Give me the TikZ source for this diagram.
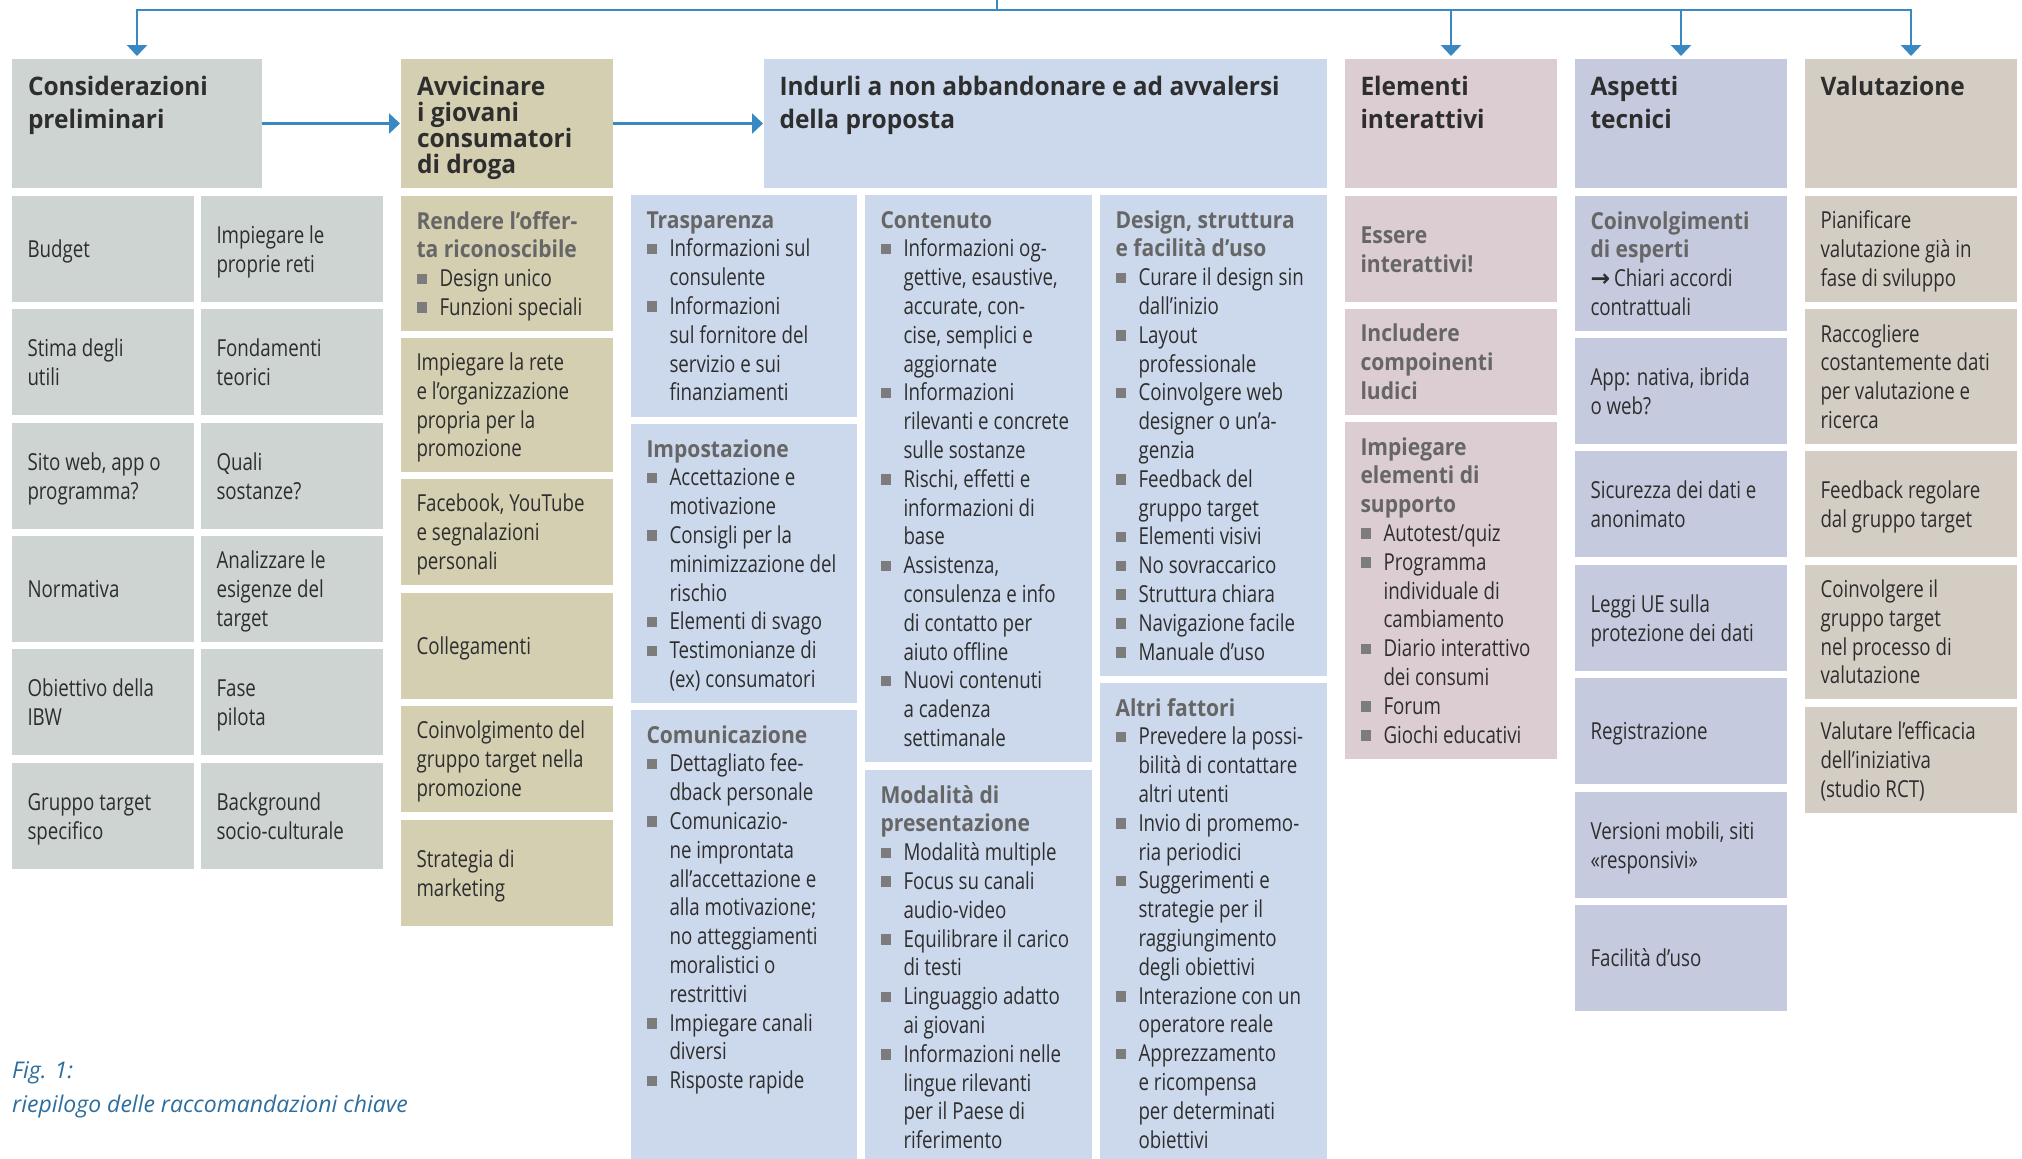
\documentclass[tikz,border=0pt]{standalone}
\usepackage{fontspec}
\setmainfont{Open Sans}[FakeStretch=0.8]
\newfontfamily\titlefont{Open Sans}[FakeStretch=0.96]
\newfontfamily\subfont{Open Sans}[FakeStretch=0.9]
\newfontfamily\capfont{Open Sans}[FakeStretch=1.0]
\newfontfamily\djv{DejaVu Sans}
\usetikzlibrary{arrows.meta}
\definecolor{gr}{HTML}{CDD4D1}
\definecolor{kh}{HTML}{D4CFB1}
\definecolor{bl}{HTML}{CCD9EC}
\definecolor{pk}{HTML}{DCCDD3}
\definecolor{lv}{HTML}{C5CADE}
\definecolor{tp}{HTML}{D4CDC3}
\definecolor{arrc}{HTML}{3A88C2}
\definecolor{txt}{HTML}{2E2E2E}
\definecolor{subc}{HTML}{666666}
\definecolor{bulc}{HTML}{7C7C7C}
\definecolor{capc}{HTML}{2E6E9E}
\newcommand\bodyf{\fontsize{23.4}{28.8}\selectfont}
\newcommand\ttlf{\titlefont\bfseries\fontsize{25.5}{33}\selectfont}
\newcommand\subh{\subfont\bfseries\color{subc}}
\newcommand\bul{\makebox[23pt][l]{\textcolor{bulc}{\rule[2.5pt]{10.5pt}{10.5pt}}}}
\newcommand\hin{\hspace*{23pt}}
\newcommand\tl[1]{\begin{tabular}[t]{@{}l@{}}#1\end{tabular}}
\tikzset{
  bx/.style={rectangle, inner sep=0pt, outer sep=0pt, anchor=north west, draw=none},
  tc/.style={anchor=west, inner sep=0pt, outer sep=0pt, text=txt, font=\bodyf},
  tt/.style={anchor=base west, inner sep=0pt, outer sep=0pt, text=txt, font=\bodyf},
  ht/.style={anchor=base west, inner sep=0pt, outer sep=0pt, text=txt, font=\ttlf},
  conn/.style={draw=arrc, line width=2.8pt},
  tip/.style={-{Triangle[width=20pt,length=11pt]}}
}
% centered box
\newcommand\cb[7]{%
  \node[bx, fill=#6, minimum width=#4pt, minimum height=#5pt] (#1) at (#2,#3) {};
  \node[tc] (#1t) at ([xshift=15.5pt,yshift=-3pt]#1.west) {\tl{#7}};}
% top aligned box
\newcommand\tb[7]{%
  \node[bx, fill=#6, minimum width=#4pt, minimum height=#5pt] (#1) at (#2,#3) {};
  \node[tt] (#1t) at ([xshift=15.5pt,yshift=-33pt]#1.north west) {\tl{#7}};}
\begin{document}
\begin{tikzpicture}[x=1pt,y=-1pt]
\fill[white] (0,0) rectangle (2022,1159);
\useasboundingbox (0,0) rectangle (2022,1159);

% header boxes
\node[bx, fill=gr, minimum width=250pt, minimum height=129pt] (cons) at (12,59) {};
\node[ht] (consT) at ([xshift=16pt,yshift=-36pt]cons.north west) {\tl{Considerazioni\\preliminari}};
\node[bx, fill=kh, minimum width=212pt, minimum height=129pt] (avv) at (401,59) {};
\node[ht, font=\titlefont\bfseries\fontsize{25.5}{23}\selectfont] (avvT) at ([xshift=16pt,yshift=-36pt]avv.north west) {\tl{Avvicinare\\i giovani\\consumatori\\di droga}};
\node[bx, fill=bl, minimum width=563pt, minimum height=129pt] (ind) at (764,59) {};
\node[ht] (indT) at ([xshift=15.5pt,yshift=-36pt]ind.north west) {\tl{Indurli a non abbandonare e ad avvalersi\\della proposta}};
\node[bx, fill=pk, minimum width=212pt, minimum height=129pt] (ele) at (1345,59) {};
\node[ht] (eleT) at ([xshift=15.5pt,yshift=-36pt]ele.north west) {\tl{Elementi\\interattivi}};
\node[bx, fill=lv, minimum width=212pt, minimum height=129pt] (asp) at (1575,59) {};
\node[ht] (aspT) at ([xshift=15.5pt,yshift=-36pt]asp.north west) {\tl{Aspetti\\tecnici}};
\node[bx, fill=tp, minimum width=212pt, minimum height=129pt] (val) at (1805,59) {};
\node[ht] (valT) at ([xshift=15.5pt,yshift=-36pt]val.north west) {\tl{Valutazione}};

% connectors
\coordinate (src) at (997,0);
\coordinate (jn) at (997,10);
\draw[conn] (src) -- (jn);
\draw[conn, tip, shorten >=3pt] (jn) -| (cons.north);
\draw[conn, tip, shorten >=3pt] (jn) -| (ele.north);
\draw[conn, tip, shorten >=3pt] (jn) -| (asp.north);
\draw[conn, tip, shorten >=3pt] (jn) -| (val.north);
\draw[conn, tip, shorten >=1pt] (cons.east) -- (avv.west);
\draw[conn, tip, shorten >=1pt] (avv.east) -- (ind.west);

% Considerazioni preliminari
\cb{g1}{12}{196}{182}{106}{gr}{Budget}
\cb{g2}{201}{196}{182}{106}{gr}{Impiegare le\\proprie reti}
\cb{g3}{12}{309}{182}{106}{gr}{Stima degli\\utili}
\cb{g4}{201}{309}{182}{106}{gr}{Fondamenti\\teorici}
\cb{g5}{12}{423}{182}{106}{gr}{Sito web, app o\\programma?}
\cb{g6}{201}{423}{182}{106}{gr}{Quali\\sostanze?}
\cb{g7}{12}{536}{182}{106}{gr}{Normativa}
\cb{g8}{201}{536}{182}{106}{gr}{Analizzare le\\esigenze del\\target}
\cb{g9}{12}{649}{182}{106}{gr}{Obiettivo della\\IBW}
\cb{g10}{201}{649}{182}{106}{gr}{Fase\\pilota}
\cb{g11}{12}{763}{182}{106}{gr}{Gruppo target\\specifico}
\cb{g12}{201}{763}{182}{106}{gr}{Background\\socio-culturale}

% Avvicinare
\tb{k1}{401}{196}{212}{135}{kh}{{\subh Rendere l’offer-}\\{\subh ta riconoscibile}\\\bul Design unico\\\bul Funzioni speciali}
\cb{k2}{401}{338}{212}{134}{kh}{Impiegare la rete\\e l’organizzazione\\propria per la\\promozione}
\cb{k3}{401}{479}{212}{106}{kh}{Facebook, YouTube\\e segnalazioni\\personali}
\cb{k4}{401}{593}{212}{106}{kh}{Collegamenti}
\cb{k5}{401}{706}{212}{106}{kh}{Coinvolgimento del\\gruppo target nella\\promozione}
\cb{k6}{401}{820}{212}{106}{kh}{Strategia di\\marketing}

% Indurli
\tb{t1}{631}{195}{226}{222}{bl}{{\subh Trasparenza}\\\bul Informazioni sul\\\hin consulente\\\bul Informazioni\\\hin sul fornitore del\\\hin servizio e sui\\\hin finanziamenti}
\tb{t2}{631}{424}{226}{279}{bl}{{\subh Impostazione}\\\bul Accettazione e\\\hin motivazione\\\bul Consigli per la\\\hin minimizzazione del\\\hin rischio\\\bul Elementi di svago\\\bul Testimonianze di\\\hin (ex) consumatori}
\tb{t3}{631}{710}{226}{449}{bl}{{\subh Comunicazione}\\\bul Dettagliato fee-\\\hin dback personale\\\bul Comunicazio-\\\hin ne improntata\\\hin all’accettazione e\\\hin alla motivazione;\\\hin no atteggiamenti\\\hin moralistici o\\\hin restrittivi\\\bul Impiegare canali\\\hin diversi\\\bul Risposte rapide}
\tb{c1}{865}{195}{227}{567}{bl}{{\subh Contenuto}\\\bul Informazioni og-\\\hin gettive, esaustive,\\\hin accurate, con-\\\hin cise, semplici e\\\hin aggiornate\\\bul Informazioni\\\hin rilevanti e concrete\\\hin sulle sostanze\\\bul Rischi, effetti e\\\hin informazioni di\\\hin base\\\bul Assistenza,\\\hin consulenza e info\\\hin di contatto per\\\hin aiuto offline\\\bul Nuovi contenuti\\\hin a cadenza\\\hin settimanale}
\tb{c2}{865}{770}{227}{389}{bl}{{\subh Modalità di}\\{\subh presentazione}\\\bul Modalità multiple\\\bul Focus su canali\\\hin audio-video\\\bul Equilibrare il carico\\\hin di testi\\\bul Linguaggio adatto\\\hin ai giovani\\\bul Informazioni nelle\\\hin lingue rilevanti\\\hin per il Paese di\\\hin riferimento}
\tb{d1}{1100}{195}{227}{481}{bl}{{\subh Design, struttura}\\{\subh e facilità d’uso}\\\bul Curare il design sin\\\hin dall’inizio\\\bul Layout\\\hin professionale\\\bul Coinvolgere web\\\hin designer o un’a-\\\hin genzia\\\bul Feedback del\\\hin gruppo target\\\bul Elementi visivi\\\bul No sovraccarico\\\bul Struttura chiara\\\bul Navigazione facile\\\bul Manuale d’uso}
\tb{d2}{1100}{683}{227}{476}{bl}{{\subh Altri fattori}\\\bul Prevedere la possi-\\\hin bilità di contattare\\\hin altri utenti\\\bul Invio di promemo-\\\hin ria periodici\\\bul Suggerimenti e\\\hin strategie per il\\\hin raggiungimento\\\hin degli obiettivi\\\bul Interazione con un\\\hin operatore reale\\\bul Apprezzamento\\\hin e ricompensa\\\hin per determinati\\\hin obiettivi}

% Elementi interattivi
\cb{e1}{1345}{196}{212}{106}{pk}{{\subh Essere}\\{\subh interattivi!}}
\cb{e2}{1345}{309}{212}{106}{pk}{{\subh Includere}\\{\subh compoinenti}\\{\subh ludici}}
\tb{e3}{1345}{422}{212}{337}{pk}{{\subh Impiegare}\\{\subh elementi di}\\{\subh supporto}\\\bul Autotest/quiz\\\bul Programma\\\hin individuale di\\\hin cambiamento\\\bul Diario interattivo\\\hin dei consumi\\\bul Forum\\\bul Giochi educativi}

% Aspetti tecnici
\tb{a1}{1575}{196}{212}{135}{lv}{{\subh Coinvolgimenti}\\{\subh di esperti}\\{\djv\bfseries →}\,Chiari accordi\\contrattuali}
\cb{a2}{1575}{338}{212}{106}{lv}{App: nativa, ibrida\\o web?}
\cb{a3}{1575}{451}{212}{106}{lv}{Sicurezza dei dati e\\anonimato}
\cb{a4}{1575}{565}{212}{106}{lv}{Leggi UE sulla\\protezione dei dati}
\cb{a5}{1575}{678}{212}{106}{lv}{Registrazione}
\cb{a6}{1575}{792}{212}{106}{lv}{Versioni mobili, siti\\«responsivi»}
\cb{a7}{1575}{905}{212}{106}{lv}{Facilità d’uso}

% Valutazione
\cb{v1}{1805}{196}{212}{106}{tp}{Pianificare\\valutazione già in\\fase di sviluppo}
\cb{v2}{1805}{309}{212}{135}{tp}{Raccogliere\\costantemente dati\\per valutazione e\\ricerca}
\cb{v3}{1805}{451}{212}{106}{tp}{Feedback regolare\\dal gruppo target}
\cb{v4}{1805}{565}{212}{134}{tp}{Coinvolgere il\\gruppo target\\nel processo di\\valutazione}
\cb{v5}{1805}{707}{212}{106}{tp}{Valutare l’efficacia\\dell’iniziativa\\(studio RCT)}

% caption
\node[anchor=base west, inner sep=0pt, text=capc, font=\capfont\itshape\fontsize{23}{34}\selectfont] (cap) at (12,1078) {\tl{Fig. 1:\\riepilogo delle raccomandazioni chiave}};
\end{tikzpicture}
\end{document}
